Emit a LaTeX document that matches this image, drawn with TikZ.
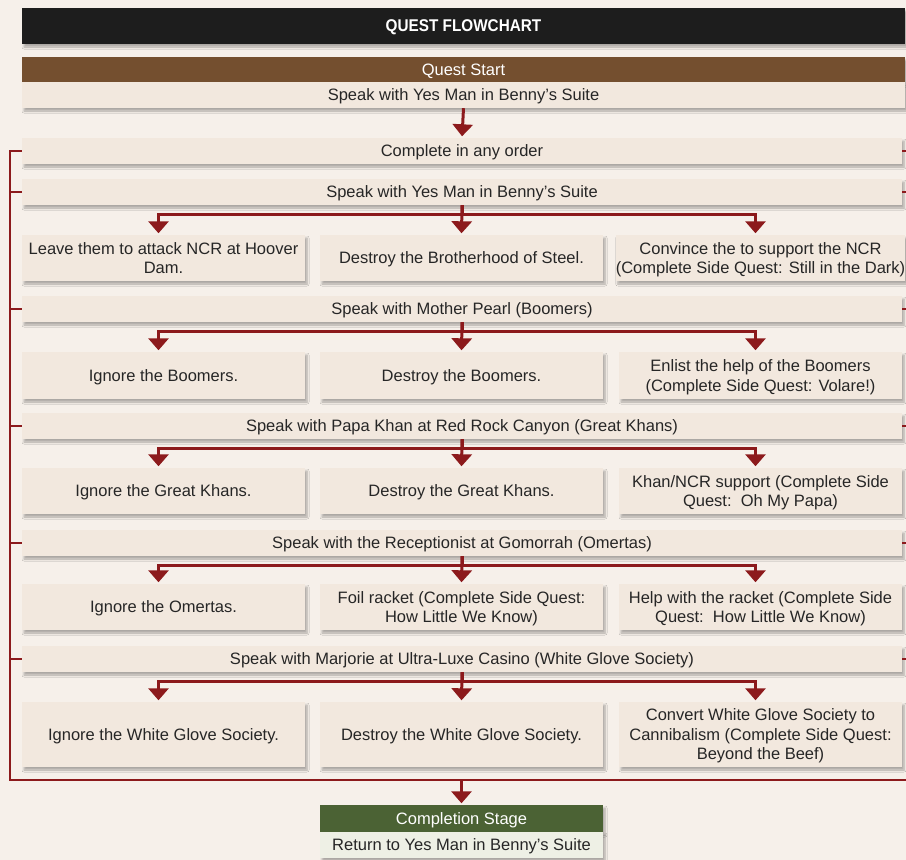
\documentclass[tikz,border=0pt]{standalone}
\usepackage{fontspec}
\setmainfont{Liberation Sans}
\newfontfamily\titlefont{Liberation Sans}[FakeStretch=0.9]
\usetikzlibrary{arrows.meta,shadows.blur,calc}
\definecolor{bg}{HTML}{F6F0EA}
\definecolor{boxc}{HTML}{F2E8DE}
\definecolor{txt}{HTML}{262626}
\definecolor{redl}{HTML}{8C1A1C}
\definecolor{brownbar}{HTML}{744F2F}
\definecolor{greenbar}{HTML}{4B6234}
\definecolor{greenbox}{HTML}{EEF0E5}
\definecolor{titlebar}{HTML}{1D1D1D}
\begin{document}
\begin{tikzpicture}[x=1pt,y=-1pt,
  shad/.style={blur shadow={shadow xshift=2pt, shadow yshift=-3pt, shadow blur steps=6, shadow blur radius=2pt, shadow opacity=30}},
  box/.style={shad, fill=boxc, text=txt, font=\fontsize{16.5}{19.5}\selectfont, inner sep=0pt, align=center, text depth=0pt},
  row/.style={box, minimum width=880pt, minimum height=26pt},
  opt/.style={box, minimum width=283pt, minimum height=46pt},
  bar/.style={shad, text=white, font=\fontsize{16.5}{19.5}\selectfont, inner sep=0pt, text depth=0pt},
  arr/.style={draw=redl, line width=3pt, -{Triangle[width=20pt,length=12pt]}, shorten >=1.5pt},
  brk/.style={draw=redl, line width=2.6pt}]
\useasboundingbox[fill=bg] (0,0) rectangle (906,860);

% header
\node[shad, fill=titlebar, text=white, minimum width=883pt, minimum height=36pt, inner sep=0pt, text depth=0pt,
  font=\titlefont\bfseries\fontsize{17}{20}\selectfont] (title) at (463.5,26) {QUEST FLOWCHART};
\node[bar, fill=brownbar, minimum width=883pt, minimum height=25pt] (qs) at (463.5,69.5) {Quest Start};
\node[box, minimum width=883pt, minimum height=26pt] (s0) at (463.5,95) {Speak with Yes Man in Benny’s Suite};

% rows
\node[row] (co) at (462,151) {Complete in any order};
\node[row] (y1) at (462,192) {Speak with Yes Man in Benny’s Suite};
\node[opt] (a1) at (163.5,258) {Leave them to attack NCR at Hoover\\Dam.};
\node[opt] (a2) at (461.5,258) {Destroy the Brotherhood of Steel.};
\node[opt] (a3) at (760.5,258) {Convince the to support the NCR\\(Complete Side Quest: Still in the Dark)};

\node[row] (mp) at (462,309) {Speak with Mother Pearl (Boomers)};
\node[opt, minimum height=47pt] (b1) at (163.5,375.5) {Ignore the Boomers.};
\node[opt, minimum height=47pt] (b2) at (461.5,375.5) {Destroy the Boomers.};
\node[opt, minimum height=47pt] (b3) at (760.5,375.5) {Enlist the help of the Boomers\\(Complete Side Quest: Volare!)};

\node[row] (pk) at (462,426) {Speak with Papa Khan at Red Rock Canyon (Great Khans)};
\node[opt] (c1) at (163.5,491) {Ignore the Great Khans.};
\node[opt] (c2) at (461.5,491) {Destroy the Great Khans.};
\node[opt] (c3) at (760.5,491) {Khan/NCR support (Complete Side\\Quest:\ \ Oh My Papa)};

\node[row] (rc) at (462,543) {Speak with the Receptionist at Gomorrah (Omertas)};
\node[opt] (d1) at (163.5,607) {Ignore the Omertas.};
\node[opt] (d2) at (461.5,607) {Foil racket (Complete Side Quest:\\How Little We Know)};
\node[opt] (d3) at (760.5,607) {Help with the racket (Complete Side\\Quest:\ \ How Little We Know)};

\node[row] (mj) at (462,659) {Speak with Marjorie at Ultra-Luxe Casino (White Glove Society)};
\node[opt, minimum height=65pt] (e1) at (163.5,734.5) {Ignore the White Glove Society.};
\node[opt, minimum height=65pt] (e2) at (461.5,734.5) {Destroy the White Glove Society.};
\node[opt, minimum height=65pt] (e3) at (760.5,734.5) {Convert White Glove Society to\\Cannibalism (Complete Side Quest:\\Beyond the Beef)};

% completion
\node[bar, fill=greenbar, minimum width=283pt, minimum height=27pt] (cs) at (461.5,818.5) {Completion Stage};
\node[box, fill=greenbox, minimum width=283pt, minimum height=26pt] (rt) at (461.5,845) {Return to Yes Man in Benny’s Suite};

% bracket
\coordinate (bl) at (10,780);
\coordinate (br) at (907.5,780);
\draw[brk] (co.west) -| (bl) -- (br) |- (co.east);
\foreach \n in {y1,mp,pk,rc,mj}{
  \draw[brk] (\n.west) -- (\n.west -| bl);
  \draw[brk] (\n.east) -- (\n.east -| br);
}

% arrows
\draw[arr] (s0.south) -- (co.north);
\foreach \s/\a/\b/\c in {y1/a1/a2/a3, mp/b1/b2/b3, pk/c1/c2/c3, rc/d1/d2/d3, mj/e1/e2/e3}{
  \draw[arr] (\s.south) -- ++(0,9) -| ($(\a.north)+(-5,0)$);
  \draw[arr] (\s.south) -- ++(0,9) -| ($(\c.north)+(-5,0)$);
  \draw[arr] (\s.south) -- (\b.north);
}
\draw[arr] (cs.north |- bl) -- (cs.north);
\end{tikzpicture}
\end{document}
